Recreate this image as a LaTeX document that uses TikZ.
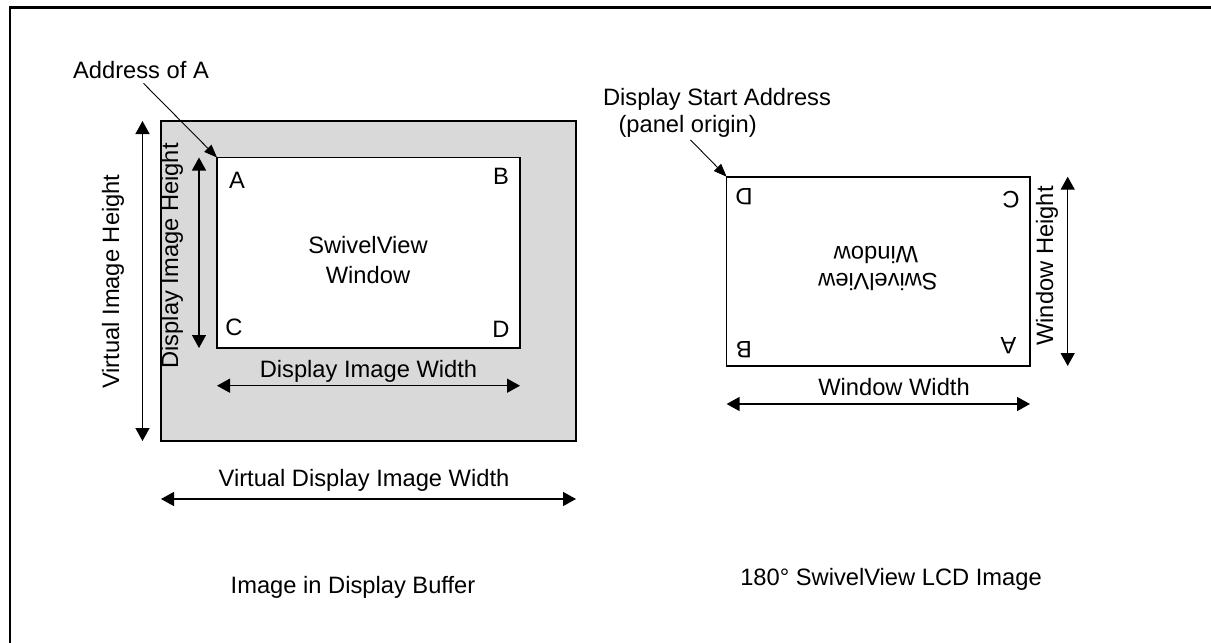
\documentclass[tikz,border=0pt]{standalone}
\usepackage{fontspec}
\setmainfont{Liberation Sans}
\usetikzlibrary{arrows.meta}
\definecolor{bufgray}{RGB}{217,217,217}
\begin{document}
\begin{tikzpicture}[x=0.5pt,y=-0.5pt,
  lbl/.style={font=\fontsize{11.85pt}{15pt}\selectfont, inner sep=0pt, outer sep=0pt},
  dim/.style={line width=0.7pt, {Triangle[length=6.5pt,width=7pt]}-{Triangle[length=6.5pt,width=7pt]}},
  ptr/.style={line width=0.45pt, -{Triangle[length=6.5pt,width=5pt]}},
  box/.style={draw, line width=0.85pt, inner sep=0pt, outer sep=0pt}]
\useasboundingbox (0,0) rectangle (1211,643);
\clip (0,0) rectangle (1211,643);
\draw[line width=1.15pt] (10,680) -- (10,7.5) -- (1240,7.5);

% left: display buffer
\node[box, fill=bufgray, minimum width=207.5pt, minimum height=160pt] (buf) at (368.5,281) {};
\node[box, fill=white, minimum width=151.5pt, minimum height=95.25pt] (win) at (368.5,252.75) {};
\node[lbl] (la) at (237,180) {A};
\node[lbl] (lb) at (501,176.7) {B};
\node[lbl] (lc) at (234,327) {C};
\node[lbl] (ld) at (501,329) {D};
\node[lbl, anchor=base] (sv1) at (368,253) {SwivelView};
\node[lbl, anchor=base] (sv2) at (368,283) {Window};

\node[lbl, anchor=base] (addr) at (141,78.3) {Address of A};
\draw[ptr] ([xshift=1.25pt,yshift=-2.4pt]addr.south) -- (win.north west);

\draw[dim] (142.5,0 |- buf.north) -- (142.5,0 |- buf.south);
\node[lbl, rotate=90] (vih) at (113,281.7) {Virtual Image Height};
\draw[dim] (199,0 |- win.north) -- (199,0 |- win.south);
\node[lbl, rotate=90] (dih) at (172,255.8) {Display Image Height};
\draw[dim] (win.west |- 0,385.7) -- (win.east |- 0,385.7);
\node[lbl, anchor=base] (diw) at (368.5,377) {Display Image Width};
\draw[dim] (buf.west |- 0,499) -- (buf.east |- 0,499);
\node[lbl, anchor=base] (vdiw) at (364,486.3) {Virtual Display Image Width};
\node[lbl, anchor=base] (cap1) at (353,593) {Image in Display Buffer};

% right: LCD image
\node[box, minimum width=151.7pt, minimum height=94.65pt] (lcd) at (878.3,271.35) {};
\node[lbl, rotate=180] (rd) at (744,196.7) {D};
\node[lbl, rotate=180] (rc) at (1011,200) {C};
\node[lbl, rotate=180] (rb) at (744,349.3) {B};
\node[lbl, rotate=180] (ra) at (1008.4,346) {A};
\node[lbl, anchor=base, rotate=180] (rsv2) at (876,246) {Window};
\node[lbl, anchor=base, rotate=180] (rsv1) at (878,273) {SwivelView};

\node[lbl, anchor=base] (dsa) at (717,105.5) {Display Start Address};
\node[lbl, anchor=base] (po) at (687.7,132) {(panel origin)};
\draw[ptr] ([xshift=1.4pt,yshift=-1.5pt]po.south) -- (lcd.north west);

\draw[dim] (lcd.west |- 0,404) -- (lcd.east |- 0,404);
\node[lbl, anchor=base] (ww) at (894,395.5) {Window Width};
\draw[dim] (1067.7,0 |- lcd.north) -- (1067.7,0 |- lcd.south);
\node[lbl, rotate=90] (wh) at (1047,266) {Window Height};
\node[lbl, anchor=base] (cap2) at (891,585.5) {180° SwivelView LCD Image};
\end{tikzpicture}
\end{document}
